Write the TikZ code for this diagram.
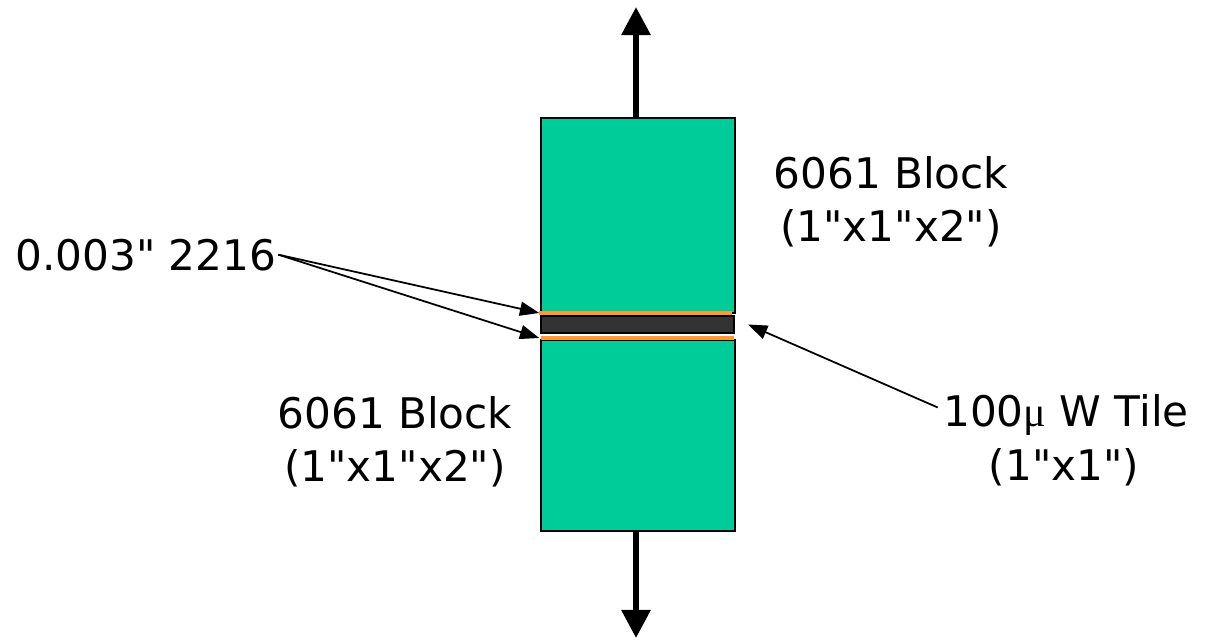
\documentclass[tikz,border=0pt]{standalone}
\definecolor{blockgreen}{RGB}{0, 204, 153}
\definecolor{glueorange}{RGB}{255, 153, 51}
\definecolor{tilegray}{RGB}{51, 51, 51}
\usepackage{fontspec}
\setmainfont{DejaVu Sans}[Ligatures=TeXOff]
\newfontfamily\mufont{Liberation Serif}
\usepackage{tikz}
\usetikzlibrary{arrows.meta, positioning}

\tikzset{
    block/.style={draw=black, line width=1.1pt, fill=blockgreen, minimum width=3.88cm, inner sep=0pt, outer sep=0pt},
    glue/.style={fill=glueorange, minimum width=3.86cm, minimum height=0.08cm, inner sep=0pt, outer sep=0pt},
    wtile/.style={draw=black, line width=0.9pt, fill=tilegray, minimum width=3.86cm, minimum height=0.34cm, inner sep=0pt, outer sep=0pt},
    lbl/.style={font=\fontsize{24}{30}\selectfont, inner sep=0pt, align=center},
    force/.style={line width=3.4pt, -{Triangle[length=16pt, width=16pt]}},
    pointer/.style={line width=1pt, -{Triangle[length=11pt, width=8pt]}}
}

\begin{document}
\begin{tikzpicture}[x=0.02cm, y=-0.02cm]
    \useasboundingbox (0,0) rectangle (1206,642);

    % Blocks, tile and glue layers
    \node[block, anchor=north west, minimum height=3.9cm] (upblock) at (541,118) {};
    \node[block, anchor=north west, minimum height=3.82cm] (lowblock) at (541,340) {};
    \node[glue, anchor=west] (glueA) at (539,313) {};
    \node[wtile, anchor=north west] (tile) at (541,316) {};
    \node[glue, anchor=west] (glueB) at (541,338) {};

    % Pull arrows
    \coordinate (pulltop) at (636,7);
    \coordinate (pullbot) at (636,638);
    \draw[force] (upblock.north -| pulltop) -- (pulltop);
    \draw[force] (lowblock.south -| pullbot) -- (pullbot);

    % Labels
    \node[lbl] (blockR) at (891,202) {6061 Block\\(1"x1"x2")};
    \node[lbl] (blockL) at (395,442) {6061 Block\\(1"x1"x2")};
    \node[lbl, anchor=base west] (gluelbl) at (15,270) {0.003" 2216};
    \node[lbl, anchor=base] (tilelbl) at (1066,426) {100{\mufont μ} W Tile};
    \node[lbl, anchor=base] (tilesize) at (1064,480) {(1"x1")};

    % Pointers
    \foreach \target in {upblock.south west, glueB.west} {
        \draw[pointer] ([xshift=1pt]gluelbl.east) -- ([xshift=-1pt]\target);
    }
    \draw[pointer] ([xshift=-3pt, yshift=4pt]tilelbl.west) -- ([xshift=8pt]tile.east);
\end{tikzpicture}
\end{document}
